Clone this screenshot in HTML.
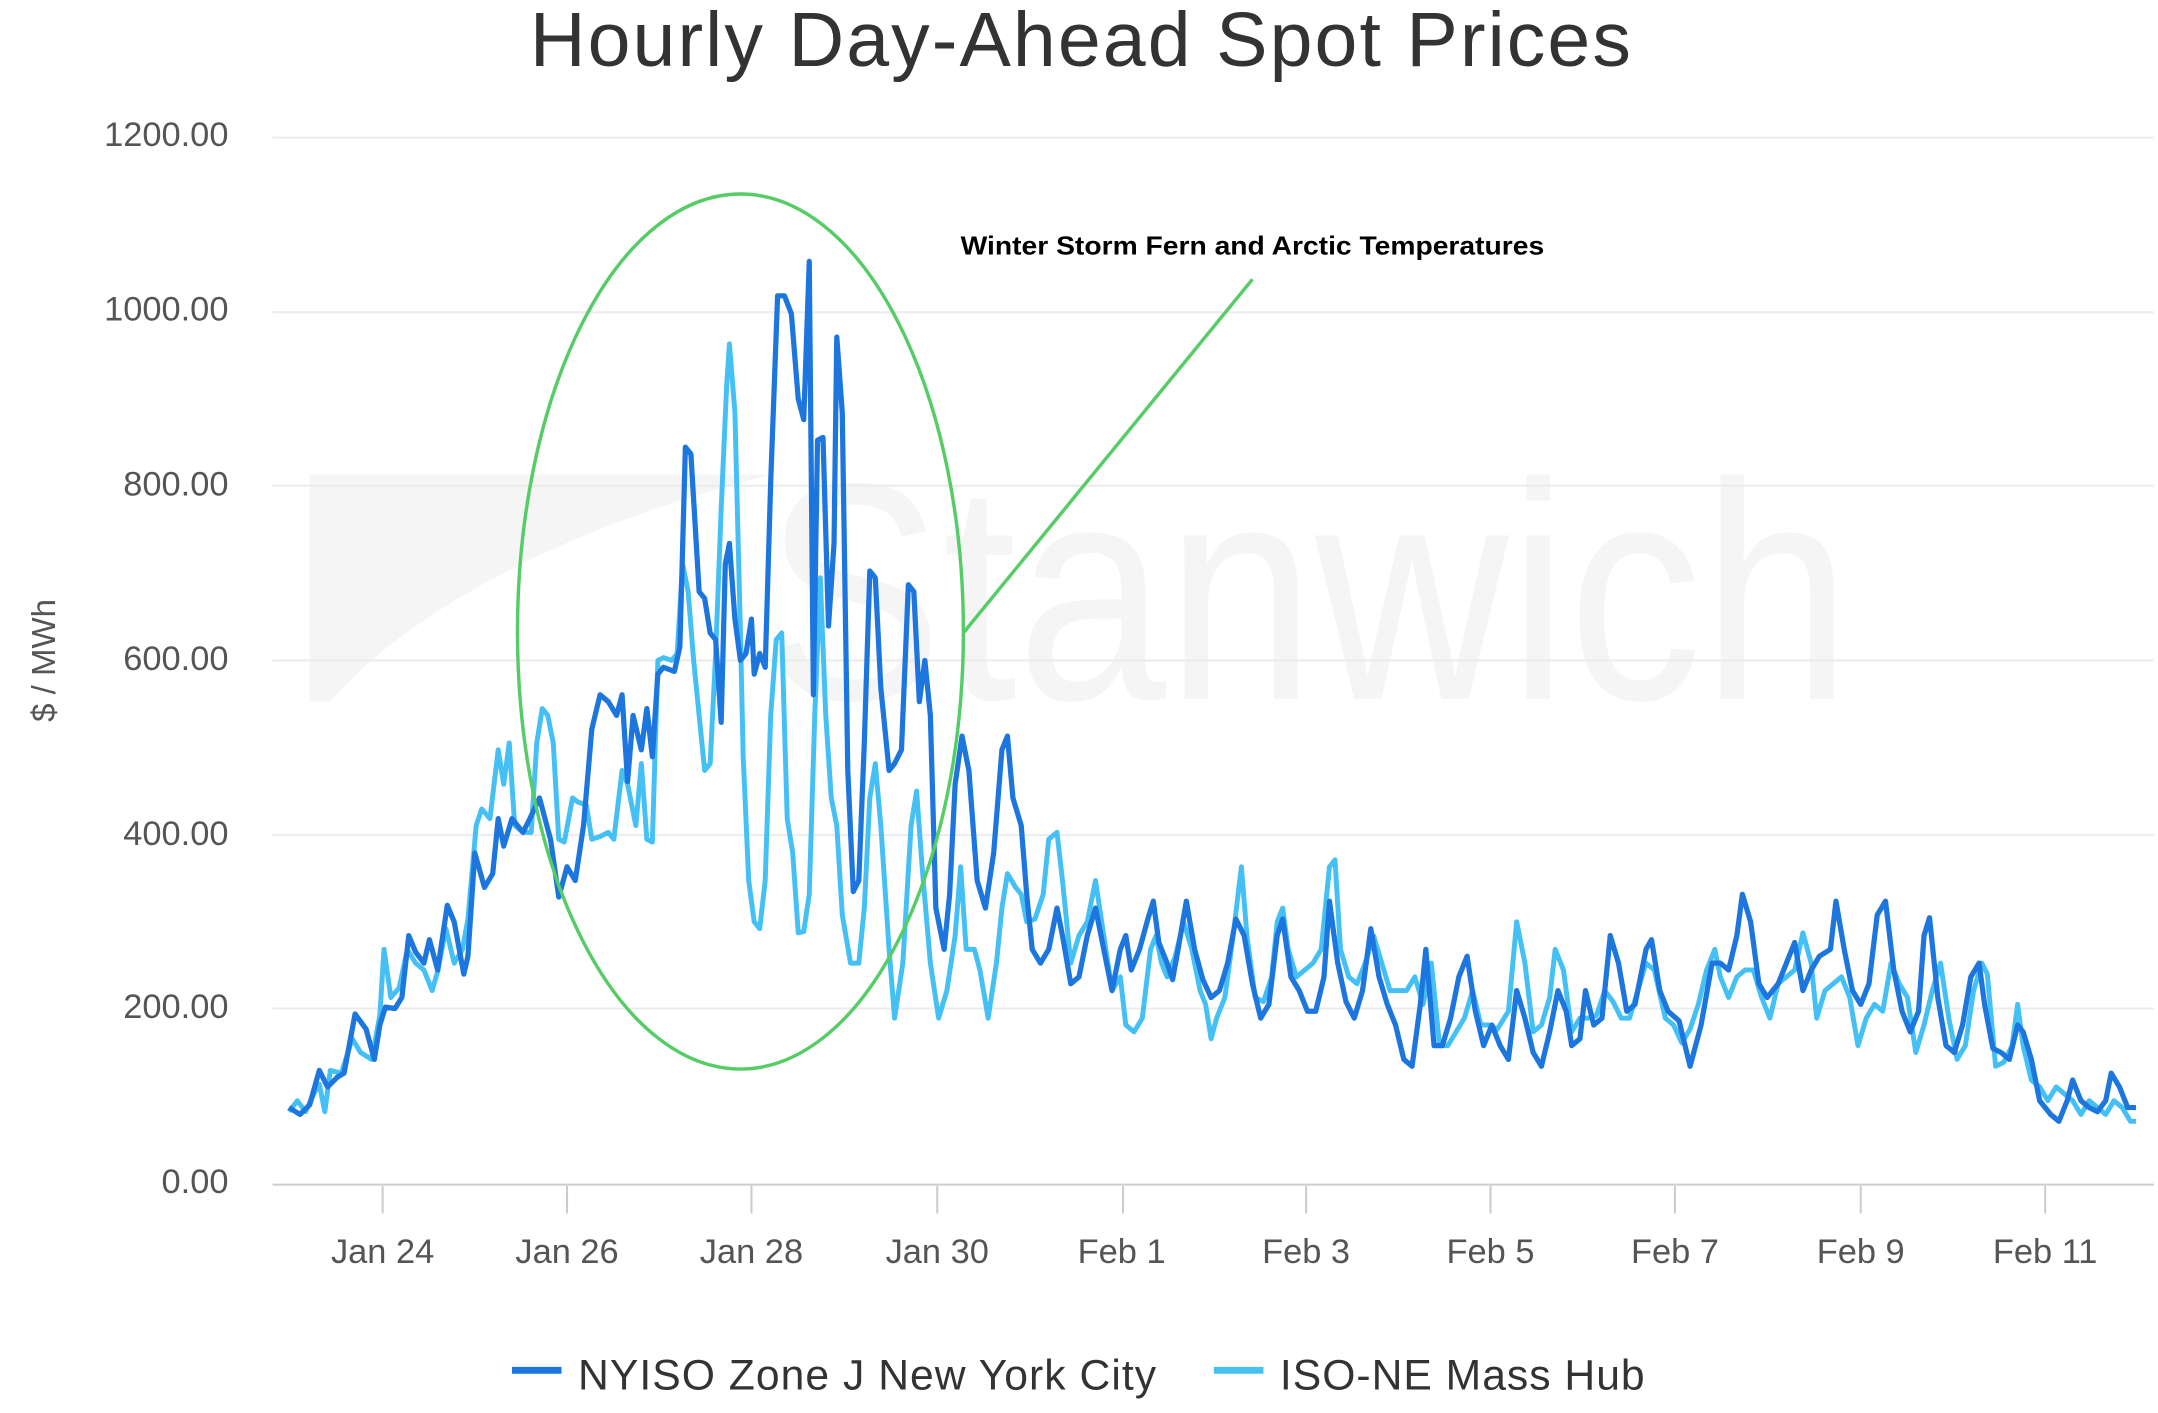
<!DOCTYPE html>
<html><head><meta charset="utf-8"><style>
html,body{margin:0;padding:0;background:#fff;}
svg{display:block;}
text{font-family:"Liberation Sans",sans-serif;}
</style></head><body>
<svg width="2158" height="1413" viewBox="0 0 1568 1027" preserveAspectRatio="none">
<rect width="1568" height="1027" fill="#fff"/>
<path d="M225,345 L560,345 C420,380 300,440 240,510 L225,510 Z" fill="#f5f5f5"/>
<text x="555" y="508" font-size="225" fill="#f5f5f5" textLength="790" lengthAdjust="spacingAndGlyphs">Stanwich</text>
<text x="785" y="48" text-anchor="middle" font-size="56" fill="#333" textLength="800">Hourly Day-Ahead Spot Prices</text>
<g stroke="#ececec" stroke-width="1.5">
<line x1="198" x2="1565" y1="100" y2="100"/>
<line x1="198" x2="1565" y1="227" y2="227"/>
<line x1="198" x2="1565" y1="353" y2="353"/>
<line x1="198" x2="1565" y1="480" y2="480"/>
<line x1="198" x2="1565" y1="607" y2="607"/>
<line x1="198" x2="1565" y1="733" y2="733"/>
<line x1="198" x2="1565" y1="861" y2="861" stroke="#ccc"/>
</g>
<g font-size="25" fill="#555" text-anchor="end">
<text x="166" y="106">1200.00</text>
<text x="166" y="233">1000.00</text>
<text x="166" y="360">800.00</text>
<text x="166" y="487">600.00</text>
<text x="166" y="614">400.00</text>
<text x="166" y="740">200.00</text>
<text x="166" y="867">0.00</text>
</g>
<text transform="translate(40,480) rotate(-90)" text-anchor="middle" font-size="24" fill="#555">$ / MWh</text>
<g stroke="#ccc" stroke-width="1.5">
<line x1="278" x2="278" y1="862" y2="882"/><line x1="412" x2="412" y1="862" y2="882"/>
<line x1="546" x2="546" y1="862" y2="882"/><line x1="681" x2="681" y1="862" y2="882"/>
<line x1="816" x2="816" y1="862" y2="882"/><line x1="949" x2="949" y1="862" y2="882"/>
<line x1="1083" x2="1083" y1="862" y2="882"/><line x1="1217" x2="1217" y1="862" y2="882"/>
<line x1="1352" x2="1352" y1="862" y2="882"/><line x1="1486" x2="1486" y1="862" y2="882"/>
</g>
<g font-size="25" fill="#555" text-anchor="middle">
<text x="278" y="918">Jan 24</text><text x="412" y="918">Jan 26</text>
<text x="546" y="918">Jan 28</text><text x="681" y="918">Jan 30</text>
<text x="815" y="918">Feb 1</text><text x="949" y="918">Feb 3</text>
<text x="1083" y="918">Feb 5</text><text x="1217" y="918">Feb 7</text>
<text x="1352" y="918">Feb 9</text><text x="1486" y="918">Feb 11</text>
</g>
<polyline fill="none" stroke="#45c0f5" stroke-width="3.6" stroke-linejoin="round" points="210,808 216,800 222,808 228,795 232,788 236,808 240,778 248,780 256,755 262,765 270,770 276,738 279,690 284,725 290,718 296,690 302,700 308,705 314,720 318,706 324,675 330,700 336,690 340,668 346,600 350,588 356,595 362,545 366,570 370,540 374,600 380,605 386,605 390,540 394,515 398,520 402,540 406,610 410,612 416,580 420,583 426,585 430,610 436,608 442,605 446,610 452,560 456,570 462,600 466,555 470,610 474,612 478,480 482,478 488,480 492,475 496,410 500,430 504,480 508,520 512,560 516,555 520,475 524,370 528,280 530,250 534,300 538,460 540,550 544,640 548,670 552,675 556,640 560,520 564,465 568,460 572,595 576,620 580,678 584,677 588,650 592,520 596,420 600,520 604,580 608,600 612,665 618,700 624,700 628,660 632,580 636,555 640,600 646,690 650,740 656,700 662,600 666,575 670,630 676,700 682,740 688,720 694,680 698,630 702,690 708,690 712,705 718,740 724,700 728,660 732,635 738,645 742,650 746,670 752,668 758,650 762,610 768,605 772,640 778,700 784,680 790,670 796,640 802,680 808,720 814,710 818,745 824,750 830,740 836,690 840,680 844,700 848,710 854,695 860,670 866,690 872,720 876,730 880,755 884,740 890,725 896,680 902,630 906,680 912,725 918,728 924,710 928,670 932,660 936,690 942,710 948,705 954,700 960,690 966,630 970,625 974,690 980,710 986,715 992,700 998,680 1004,700 1010,720 1016,720 1022,720 1028,710 1034,730 1040,700 1046,760 1052,760 1058,750 1064,740 1070,720 1076,745 1082,745 1088,748 1096,735 1102,670 1108,700 1114,750 1120,745 1126,725 1130,690 1136,705 1142,750 1148,740 1154,740 1160,738 1166,720 1172,728 1178,740 1184,740 1190,720 1196,700 1202,705 1210,740 1216,745 1222,758 1228,748 1234,730 1240,705 1246,690 1250,710 1256,725 1262,710 1268,705 1274,705 1280,725 1286,740 1292,715 1298,710 1304,705 1310,678 1316,700 1320,740 1326,720 1332,715 1338,710 1344,725 1350,760 1356,740 1362,730 1368,735 1374,700 1380,715 1386,725 1392,765 1398,745 1404,720 1410,700 1416,740 1422,770 1428,760 1434,720 1440,700 1444,708 1450,775 1456,772 1462,760 1466,730 1470,760 1476,785 1482,790 1488,800 1494,790 1500,795 1506,800 1512,810 1518,800 1524,805 1530,810 1536,800 1542,805 1548,815 1552,815"/>
<polyline fill="none" stroke="#1c76dd" stroke-width="3.8" stroke-linejoin="round" points="210,805 218,810 225,803 232,778 238,790 245,783 250,780 258,737 266,748 272,770 276,745 280,732 287,733 292,725 297,680 302,692 308,700 312,683 318,705 325,658 330,670 337,708 340,695 345,620 352,645 358,635 362,595 366,615 372,595 380,605 385,595 392,580 400,610 406,652 412,630 418,640 424,600 430,530 436,505 442,510 448,520 452,505 456,568 460,520 466,545 470,515 474,550 478,490 482,485 490,488 494,470 498,325 502,330 508,430 512,435 516,460 520,465 524,525 527,410 530,395 534,450 538,480 542,475 546,450 548,490 552,475 556,485 560,350 565,215 570,215 575,228 580,290 584,305 588,190 591,505 594,320 598,318 602,455 606,395 608,245 612,300 616,560 620,648 624,640 628,540 632,415 636,420 640,500 646,560 650,555 655,545 660,425 664,430 668,510 672,480 676,520 680,660 686,690 690,650 694,570 699,535 704,560 710,640 716,660 722,620 728,545 732,535 736,580 742,600 746,650 750,690 756,700 762,690 768,660 772,680 778,715 784,710 790,680 796,660 802,690 808,720 814,690 818,680 822,705 828,690 834,668 838,655 842,685 848,700 852,712 856,690 862,655 868,690 874,712 880,725 886,720 892,700 898,668 904,680 910,715 916,740 922,730 928,680 932,668 938,710 944,720 950,735 956,735 962,710 966,655 972,700 978,728 984,740 990,720 996,675 1002,710 1008,730 1014,745 1020,770 1026,775 1032,730 1036,690 1042,760 1048,760 1054,740 1060,710 1066,695 1072,735 1078,760 1084,745 1090,760 1096,770 1102,720 1108,740 1114,765 1120,775 1126,750 1132,720 1138,735 1142,760 1148,755 1152,720 1158,745 1164,740 1170,680 1176,700 1182,735 1188,730 1196,690 1200,683 1206,720 1212,735 1220,742 1228,775 1236,745 1244,700 1250,700 1256,705 1262,680 1266,650 1272,670 1278,715 1284,725 1292,715 1298,700 1304,685 1310,720 1316,705 1322,695 1330,690 1334,655 1340,690 1346,720 1352,730 1358,715 1364,665 1370,655 1376,705 1382,735 1388,750 1394,735 1398,680 1402,667 1408,725 1414,760 1420,765 1426,745 1432,710 1438,700 1442,730 1448,762 1454,765 1460,770 1466,745 1470,750 1476,770 1482,800 1490,810 1496,815 1502,800 1506,785 1512,800 1518,805 1524,808 1530,800 1534,780 1540,790 1546,805 1552,805"/>
<ellipse cx="538" cy="459" rx="162" ry="318" fill="none" stroke="#55cc66" stroke-width="2.5"/>
<line x1="700" y1="460" x2="910" y2="203" stroke="#55cc66" stroke-width="2.5"/>
<text x="698" y="185" font-size="19" font-weight="bold" fill="#000" textLength="424" lengthAdjust="spacingAndGlyphs">Winter Storm Fern and Arctic Temperatures</text>
<line x1="372" x2="408" y1="996" y2="996" stroke="#1c76dd" stroke-width="5"/>
<text x="420" y="1010" font-size="31" fill="#333" textLength="420">NYISO Zone J New York City</text>
<line x1="882" x2="918" y1="996" y2="996" stroke="#45c0f5" stroke-width="5"/>
<text x="930" y="1010" font-size="31" fill="#333" textLength="265">ISO-NE Mass Hub</text>
</svg>
</body></html>
